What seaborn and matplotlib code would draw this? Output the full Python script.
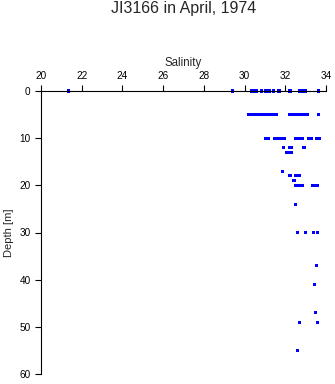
import matplotlib
matplotlib.use("Agg")
import matplotlib.pyplot as plt
import seaborn as sns
import pandas as pd

# Salinity observations grouped by depth [m]
depth_0 = [21.33, 29.41, 30.33, 30.45, 30.59, 30.81, 31.04, 31.12, 31.21, 31.44, 31.69,
           32.23, 32.72, 32.80, 32.88, 32.97, 33.64]
depth_5 = [30.22, 30.30, 30.38, 30.55, 30.65, 30.76, 30.86, 30.96, 31.06, 31.16, 31.26,
           31.36, 31.47, 31.56, 32.20, 32.34, 32.42, 32.50, 32.58, 32.68, 32.78, 32.88,
           32.98, 33.08, 33.65]
depth_10 = [31.02, 31.15, 31.45, 31.58, 31.72, 31.84, 31.96, 32.48, 32.60, 32.72, 32.84,
            33.14, 33.28, 33.55, 33.66]
depth_12 = [31.90, 32.22, 32.32, 32.92]
depth_13 = [32.08, 32.18, 32.28]
depth_17 = [31.85]
depth_18 = [32.23, 32.48, 32.58, 32.68]
depth_19 = [32.43]
depth_20 = [32.48, 32.58, 32.70, 32.85, 33.36, 33.46, 33.60]
depth_24 = [32.49]
depth_30 = [32.59, 32.98, 33.38, 33.57]
depth_37 = [33.54]
depth_41 = [33.42]
depth_47 = [33.47]
depth_49 = [32.69, 33.57]
depth_55 = [32.60]

groups = {0: depth_0, 5: depth_5, 10: depth_10, 12: depth_12, 13: depth_13, 17: depth_17,
          18: depth_18, 19: depth_19, 20: depth_20, 24: depth_24, 30: depth_30, 37: depth_37,
          41: depth_41, 47: depth_47, 49: depth_49, 55: depth_55}

x_ticks = [20, 22, 24, 26, 28, 30, 32, 34]
y_ticks = [0, 10, 20, 30, 40, 50, 60]

rows = []
for d, vals in groups.items():
    for v in vals:
        rows.append({"Salinity": v, "Depth": d})
df = pd.DataFrame(rows)

sns.set_style("ticks")
plt.rcParams['font.family'] = ['Liberation Sans', 'DejaVu Sans']

fig = plt.figure(figsize=(3.35, 3.84), dpi=100)
ax = fig.add_axes([41/335, 1 - 374/384, 285/335, 283/384])

sns.scatterplot(data=df, x="Salinity", y="Depth", ax=ax, marker='s', s=5,
                color='#0000ff', edgecolor='none', linewidth=0, clip_on=False, legend=False)

ax.set_xlim(20, 34)
ax.set_ylim(60, 0)
ax.set_xticks(x_ticks)
ax.set_yticks(y_ticks)
ax.xaxis.tick_top()
ax.xaxis.set_label_position('top')
for s in ['bottom', 'right']:
    ax.spines[s].set_visible(False)
for s in ['top', 'left']:
    ax.spines[s].set_linewidth(0.8)
    ax.spines[s].set_color('black')
ax.tick_params(axis='x', direction='out', length=4.3, width=0.8, pad=3.2, labelsize=7.2, colors='black')
ax.tick_params(axis='y', direction='out', length=4.0, width=0.8, pad=3.4, labelsize=7.2, colors='black')

ax.set_xlabel("Salinity", fontsize=8.3, labelpad=3.0)
ax.set_ylabel("Depth [m]", fontsize=8.0, labelpad=4)
fig.text(183.5/335, 1 - 8/384, "JI3166 in April, 1974", ha='center', va='center', fontsize=11.5)

fig.savefig("out.png", dpi=100)
